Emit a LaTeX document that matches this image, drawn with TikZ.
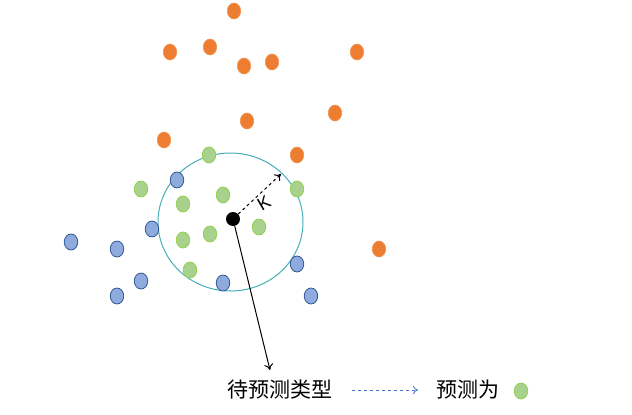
\documentclass[tikz,border=0pt]{standalone}
\usepackage{fontspec}
\newfontfamily\cjk{Noto Sans CJK SC}
\newfontfamily\ksans{Liberation Sans}
\usetikzlibrary{arrows.meta}
\definecolor{org}{HTML}{ED7D31}
\definecolor{grn}{HTML}{A9D18E}
\definecolor{grnline}{HTML}{92D050}
\definecolor{blu}{HTML}{8FAADC}
\definecolor{bluline}{HTML}{2F5597}
\definecolor{ring}{HTML}{45AFB8}
\definecolor{arrblue}{HTML}{4472C4}
\tikzset{
  dot/.style={ellipse, minimum width=13.5pt, minimum height=16pt, inner sep=0pt},
  odot/.style={dot, fill=org, draw=org!80!white, line width=0.6pt},
  gdot/.style={dot, fill=grn, draw=grnline, line width=0.8pt},
  bdot/.style={dot, fill=blu, draw=bluline, line width=0.8pt},
  lbl/.style={font=\cjk\fontsize{21}{25}\selectfont, inner sep=0pt, anchor=base west},
}
\usetikzlibrary{shapes.geometric}
\begin{document}
\begin{tikzpicture}[x=1pt,y=-1pt]
\useasboundingbox (0,0) rectangle (632,415);
% ring
\node[ellipse, draw=ring, line width=1pt, minimum width=145pt, minimum height=138pt, inner sep=0pt] (ring) at (230.5,222) {};
% orange
\node[odot] (o1) at (234,11) {};
\node[odot] (o2) at (170,52) {};
\node[odot] (o3) at (210,47) {};
\node[odot] (o4) at (244,66) {};
\node[odot] (o5) at (272,62) {};
\node[odot] (o6) at (357,52) {};
\node[odot] (o7) at (335,113) {};
\node[odot] (o8) at (247,121) {};
\node[odot] (o9) at (164,140) {};
\node[odot] (o10) at (297,155) {};
\node[odot] (o11) at (379,249) {};
% green
\node[gdot] (g1) at (209,155) {};
\node[gdot] (g2) at (141,189) {};
\node[gdot] (g3) at (183,204) {};
\node[gdot] (g4) at (223,195) {};
\node[gdot] (g5) at (297,189) {};
\node[gdot] (g6) at (183,240) {};
\node[gdot] (g7) at (210,234) {};
\node[gdot] (g8) at (259,227) {};
\node[gdot] (g9) at (190,270) {};
% blue
\node[bdot] (b1) at (177,180) {};
\node[bdot] (b2) at (152,229) {};
\node[bdot] (b3) at (71,242) {};
\node[bdot] (b4) at (117,249) {};
\node[bdot] (b5) at (141,281) {};
\node[bdot] (b6) at (117,296) {};
\node[bdot] (b7) at (223,283) {};
\node[bdot] (b8) at (297,264) {};
\node[bdot] (b9) at (311,296) {};
% query point
\node[circle, fill=black, minimum size=14pt, inner sep=0pt] (q) at (233,219) {};
\coordinate (kend) at (281,174);
\draw[dashed, line width=1pt, -{To[length=6pt,width=9pt]}] (q) -- (kend);
\node[rotate=30, font=\ksans\fontsize{18}{20}\selectfont, inner sep=0pt] (k) at (264,203) {K};
% label
\node[lbl] (t1) at (227,397) {待预测类型};
\draw[line width=1pt, -{To[length=6pt,width=9pt]}] (q) -- (270,370) coordinate (tend);
\node[lbl] (t2) at (436,397) {预测为};
\draw[dashed, arrblue, line width=0.8pt, -{To[length=5pt,width=8pt]}] (352,390) -- (418,390);
\node[gdot] (gl) at (521,391) {};
\end{tikzpicture}
\end{document}
